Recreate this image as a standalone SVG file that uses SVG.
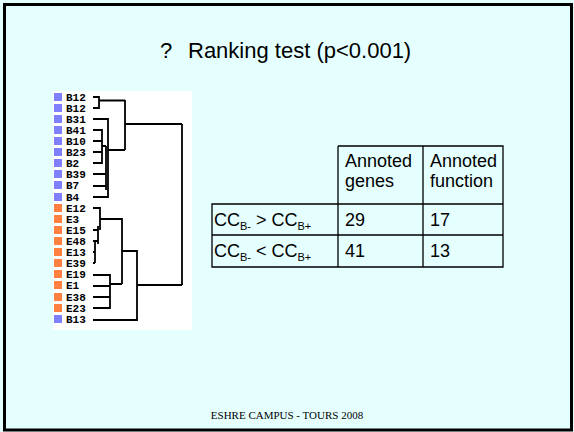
<svg xmlns="http://www.w3.org/2000/svg" width="574" height="432" viewBox="0 0 574 432">
<style>
.t{font-family:"Liberation Sans",Arial,sans-serif;fill:#000;font-size:18px}
.s{font-size:11px}
.lbl{font-family:"Liberation Mono","Courier New",monospace;font-weight:bold;font-size:11px;fill:#000}
.br{stroke:#000;stroke-width:1.8;fill:none}
.tb{stroke:#000;stroke-width:1.3;fill:none}
.b{fill:#8080FF}
.e{fill:#FF8040}
</style>
<rect x="0" y="0" width="574" height="432" fill="#E5FFFF"/>
<rect x="4.5" y="4.5" width="567" height="425.5" fill="none" stroke="#000" stroke-width="3"/>
<g id="title"><text class="t" x="160" y="58" style="font-size:22px">?</text><text class="t" x="188" y="58" style="font-size:22px">Ranking test (p&lt;0.001)</text></g>
<g id="dendrogram">
<rect x="53" y="91" width="139" height="239" fill="#fff"/>
<g id="leaves">
<rect class="b" x="54" y="93" width="8" height="8"/><text class="lbl" x="66" y="101">B12</text>
<rect class="b" x="54" y="104" width="8" height="8"/><text class="lbl" x="66" y="112">B12</text>
<rect class="b" x="54" y="115" width="8" height="8"/><text class="lbl" x="66" y="123">B31</text>
<rect class="b" x="54" y="126" width="8" height="8"/><text class="lbl" x="66" y="134">B41</text>
<rect class="b" x="54" y="137" width="8" height="8"/><text class="lbl" x="66" y="145">B10</text>
<rect class="b" x="54" y="148" width="8" height="8"/><text class="lbl" x="66" y="156">B23</text>
<rect class="b" x="54" y="159" width="8" height="8"/><text class="lbl" x="66" y="167">B2</text>
<rect class="b" x="54" y="170" width="8" height="8"/><text class="lbl" x="66" y="178">B39</text>
<rect class="b" x="54" y="181" width="8" height="8"/><text class="lbl" x="66" y="189">B7</text>
<rect class="b" x="54" y="193" width="8" height="8"/><text class="lbl" x="66" y="201">B4</text>
<rect class="e" x="54" y="204" width="8" height="8"/><text class="lbl" x="66" y="212">E12</text>
<rect class="e" x="54" y="215" width="8" height="8"/><text class="lbl" x="66" y="223">E3</text>
<rect class="e" x="54" y="226" width="8" height="8"/><text class="lbl" x="66" y="234">E15</text>
<rect class="e" x="54" y="237" width="8" height="8"/><text class="lbl" x="66" y="245">E48</text>
<rect class="e" x="54" y="248" width="8" height="8"/><text class="lbl" x="66" y="256">E13</text>
<rect class="e" x="54" y="259" width="8" height="8"/><text class="lbl" x="66" y="267">E39</text>
<rect class="e" x="54" y="270" width="8" height="8"/><text class="lbl" x="66" y="278">E19</text>
<rect class="e" x="54" y="281" width="8" height="8"/><text class="lbl" x="66" y="289">E1</text>
<rect class="e" x="54" y="293" width="8" height="8"/><text class="lbl" x="66" y="301">E38</text>
<rect class="e" x="54" y="304" width="8" height="8"/><text class="lbl" x="66" y="312">E23</text>
<rect class="b" x="54" y="315" width="8" height="8"/><text class="lbl" x="66" y="323">B13</text>
</g>
<g id="connectors">
<path class="br" d="M93 97H99V108H93M99 100.5H125M108 150H125M125 100V150M125 124H182M182 124V285M137 285H182"/>
<path class="br" d="M93 119H108V197H93M93 130H102V163H93M93 141H102M93 152H102M102 146H106M93 174H106V186H93M106 146V190"/>
<path class="br" d="M93 208H100V230M100 219H122V284M93 230H98M93 241H98M98 226V244M93 252H95M93 263H95M95 241V263"/>
<path class="br" d="M93 275H110V308H93M93 286H110M93 297H110M110 284H122M122 251H137V320H93"/>
</g>
</g>
<g id="table">
<path class="tb" d="M338 146H503V267H212V204H503M212 235H503M338 146V267M423 146V267M503 146V267M212 204V267"/>
<g id="h1"><text class="t" x="345" y="167">Annoted</text><text class="t" x="345" y="187">genes</text></g>
<g id="h2"><text class="t" x="430" y="167">Annoted</text><text class="t" x="430" y="187">function</text></g>
<g id="r1"><text class="t" x="214" y="226">CC<tspan class="s" dy="4">B-</tspan><tspan dy="-4"> &gt; CC</tspan><tspan class="s" dy="4">B+</tspan></text><text class="t" x="345" y="226">29</text><text class="t" x="430" y="226">17</text></g>
<g id="r2"><text class="t" x="214" y="257">CC<tspan class="s" dy="4">B-</tspan><tspan dy="-4"> &lt; CC</tspan><tspan class="s" dy="4">B+</tspan></text><text class="t" x="345" y="257">41</text><text class="t" x="430" y="257">13</text></g>
</g>
<g id="footer"><text x="287" y="419" font-family="'Liberation Serif','Times New Roman',serif" font-size="11" text-anchor="middle" fill="#000">ESHRE CAMPUS - TOURS 2008</text></g>
</svg>
